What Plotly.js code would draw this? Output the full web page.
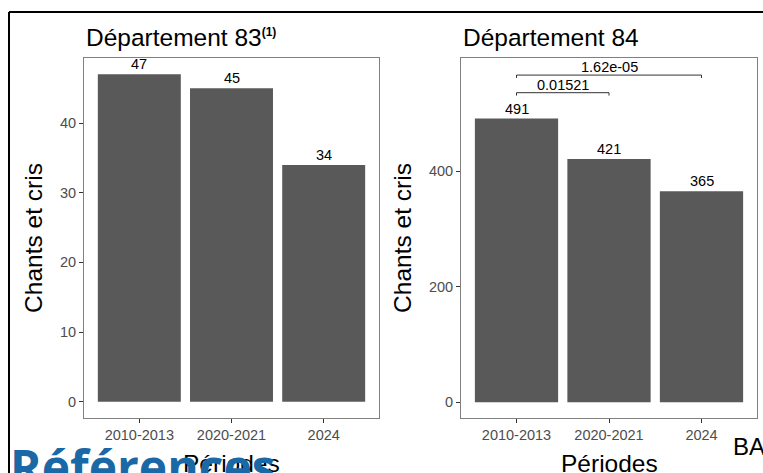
<!DOCTYPE html>
<html>
<head>
<meta charset="utf-8">
<script src="https://cdn.plot.ly/plotly-3.0.1.min.js"></script>
<style>
  html, body { margin: 0; padding: 0; background: #ffffff; }
  #chart { width: 763px; height: 473px; }
</style>
</head>
<body>
<div id="chart"></div>
<script>
// ---- data ----
const periods = ["2010-2013", "2020-2021", "2024"];
const dept83 = [47, 45, 34];
const dept84 = [491, 421, 365];
const yTicks83 = [0, 10, 20, 30, 40];
const yTicks84 = [0, 200, 400];
const pvalues84 = ["0.01521", "1.62e-05"];
const comparisons84 = [[0, 1], [0, 2]];

// ---- style ----
const W = 763, H = 473;
const px = v => v / W;
const py = v => 1 - v / H;
const barColor = "#595959";
const tickFont = { family: "Liberation Sans, Arial, sans-serif", size: 14.5, color: "#4d4d4d" };
const titleFont = { family: "Liberation Sans, Arial, sans-serif", size: 24.5, color: "#000000" };
const labFont = { family: "Liberation Sans, Arial, sans-serif", size: 14.5, color: "#000000" };

function xAxis(domain) {
  return {
    domain: domain, type: "category", range: [-0.6, 2.6],
    showline: true, mirror: true, linecolor: "#808080", linewidth: 1,
    ticks: "outside", ticklen: 4, tickcolor: "#333333", tickwidth: 1,
    tickfont: tickFont, showgrid: false, zeroline: false, automargin: false
  };
}
function yAxis(domain, range, tv) {
  return {
    domain: domain, range: range, tickvals: tv,
    showline: true, mirror: true, linecolor: "#808080", linewidth: 1,
    ticks: "outside", ticklen: 4, tickcolor: "#333333", tickwidth: 1,
    tickfont: tickFont, showgrid: false, zeroline: false, automargin: false,
    title: { text: "Chants et cris", font: titleFont, standoff: 10 }
  };
}

const yDom = [py(418), py(58)];
const max84 = Math.max(...dept84);
const bracketY = [max84 * 1.091, max84 * 1.153];
const tip = 5;

const traces = [
  { type: "bar", x: periods, y: dept83, xaxis: "x", yaxis: "y", width: 0.9,
    marker: { color: barColor }, hoverinfo: "x+y" },
  { type: "bar", x: periods, y: dept84, xaxis: "x2", yaxis: "y2", width: 0.9,
    marker: { color: barColor }, hoverinfo: "x+y" }
];

const annotations = [];
dept83.forEach((v, i) => annotations.push({
  xref: "x", yref: "y", x: i, y: v, text: String(v), showarrow: false,
  yanchor: "bottom", yshift: 0, font: labFont
}));
dept84.forEach((v, i) => annotations.push({
  xref: "x2", yref: "y2", x: i, y: v, text: String(v), showarrow: false,
  yanchor: "bottom", yshift: 0, font: labFont
}));

const shapes = [];
comparisons84.forEach((c, k) => {
  const y = bracketY[k];
  shapes.push({ type: "path", xref: "x2", yref: "y2",
    path: `M ${c[0]} ${y - tip} L ${c[0]} ${y} L ${c[1]} ${y} L ${c[1]} ${y - tip}`,
    line: { color: "#333333", width: 1 } });
  annotations.push({ xref: "x2", yref: "y2", x: (c[0] + c[1]) / 2, y: y,
    text: pvalues84[k], showarrow: false, yanchor: "bottom", yshift: -2, font: labFont });
});

// panel titles
annotations.push({ xref: "paper", yref: "paper", x: px(84), y: py(37), xanchor: "left", yanchor: "middle",
  text: "Département 83<sup><span style=\"font-size:12px\"><b>(1)</b></span></sup>", showarrow: false, font: titleFont });
annotations.push({ xref: "paper", yref: "paper", x: px(461), y: py(37), xanchor: "left", yanchor: "middle",
  text: "Département 84", showarrow: false, font: titleFont });

// x axis titles
annotations.push({ xref: "x domain", yref: "paper", x: 0.5, y: py(463), xanchor: "center", yanchor: "middle",
  text: "Périodes", showarrow: false, font: titleFont });
annotations.push({ xref: "x2 domain", yref: "paper", x: 0.5, y: py(463), xanchor: "center", yanchor: "middle",
  text: "Périodes", showarrow: false, font: titleFont });

// surrounding document text
annotations.push({ xref: "paper", yref: "paper", x: px(8), y: py(432), xanchor: "left", yanchor: "top",
  text: "<b>Références</b>", showarrow: false,
  font: { family: "Open Sans, sans-serif", size: 48, color: "#1b68a6" } });
annotations.push({ xref: "paper", yref: "paper", x: px(731), y: py(446), xanchor: "left", yanchor: "middle",
  text: "BA", showarrow: false, font: { family: "Liberation Sans, Arial, sans-serif", size: 24, color: "#000" } });

// document frame
shapes.push({ type: "line", xref: "paper", yref: "paper", x0: px(9), x1: 1, y0: py(12), y1: py(12), line: { color: "#000", width: 2 } });
shapes.push({ type: "line", xref: "paper", yref: "paper", x0: px(9), x1: px(9), y0: py(12), y1: 0, line: { color: "#000", width: 2 } });

const layout = {
  width: W, height: H,
  margin: { l: 0, r: 0, t: 0, b: 0 },
  paper_bgcolor: "#ffffff", plot_bgcolor: "#ffffff",
  showlegend: false, bargap: 0.1,
  xaxis: xAxis([px(84), px(379)]),
  yaxis: yAxis(yDom, [-2.35, 49.35], yTicks83),
  xaxis2: xAxis([px(461), px(757)]),
  yaxis2: Object.assign(yAxis(yDom, [-27.2, 595.7], yTicks84), { anchor: "x2" }),
  annotations: annotations,
  shapes: shapes
};
layout.xaxis2.anchor = "y2";

Plotly.newPlot("chart", traces, layout, { displayModeBar: false, staticPlot: true });
</script>
</body>
</html>
